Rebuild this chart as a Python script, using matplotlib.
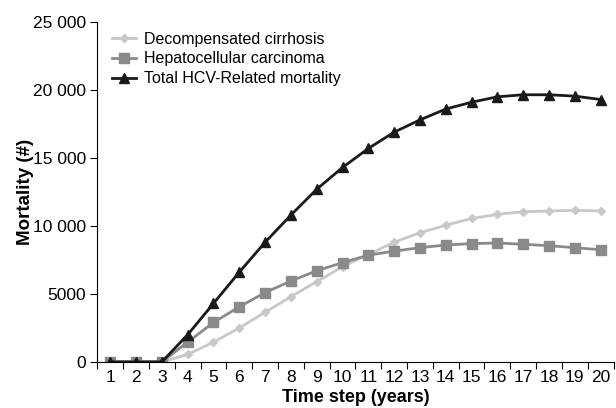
import matplotlib
matplotlib.use("Agg")
import matplotlib.pyplot as plt
import numpy as np

plt.rcParams.update({"font.family": ["Liberation Sans", "DejaVu Sans"], "font.size": 10})

years = np.arange(1, 21)
cirrhosis = [0, 0, 0, 550, 1450, 2500, 3650, 4800, 5900, 7000, 7900, 8800,
             9500, 10050, 10550, 10850, 11050, 11100, 11150, 11100]
hcc = [0, 0, 0, 1450, 2900, 4050, 5100, 5950, 6700, 7300, 7850, 8150,
       8400, 8600, 8700, 8750, 8650, 8550, 8400, 8250]
total = [0, 0, 0, 2000, 4300, 6600, 8800, 10800, 12700, 14300, 15700, 16900,
         17800, 18600, 19100, 19500, 19650, 19650, 19550, 19300]
ytick_vals = [0, 5000, 10000, 15000, 20000, 25000]
ytick_labels = ["0", "5000", "10 000", "15 000", "20 000", "25 000"]

fig = plt.figure(figsize=(6.16, 4.08), dpi=100)
ax = fig.add_axes([0.158, 0.113, 0.838, 0.833])

ax.plot(years, cirrhosis, color="#c8c8c8", lw=2, marker="D", ms=4.5,
        label="Decompensated cirrhosis")
ax.plot(years, hcc, color="#8a8a8a", lw=2, marker="s", ms=7,
        label="Hepatocellular carcinoma")
ax.plot(years, total, color="#1a1a1a", lw=2, marker="^", ms=7,
        label="Total HCV-Related mortality")

ax.set_xlim(0.5, 20.5)
ax.set_ylim(0, 25000)
ax.set_xticks(np.arange(0.5, 21, 1))
ax.set_xticks(years, minor=True)
ax.set_xticklabels([])
ax.set_xticklabels([str(y) for y in years], minor=True)
ax.tick_params(axis="x", which="minor", length=0, labelsize=12.5, pad=6)
ax.tick_params(axis="x", which="major", length=5, direction="out")
ax.set_yticks(ytick_vals)
ax.set_yticklabels(ytick_labels)
ax.tick_params(axis="y", labelsize=12.5, length=5, pad=3)

for s in ["top", "right"]:
    ax.spines[s].set_visible(False)

ax.set_xlabel("Time step (years)", fontweight="bold", fontsize=13, labelpad=3)
ax.set_ylabel("Mortality (#)", fontweight="bold", fontsize=13.5, labelpad=-1)
ax.legend(loc="upper left", frameon=False, fontsize=11.5, handlelength=1.5,
          handletextpad=0.5, borderaxespad=0.2, labelspacing=0.3,
          bbox_to_anchor=(0.01, 1.0))

fig.savefig("out.png", dpi=100)
